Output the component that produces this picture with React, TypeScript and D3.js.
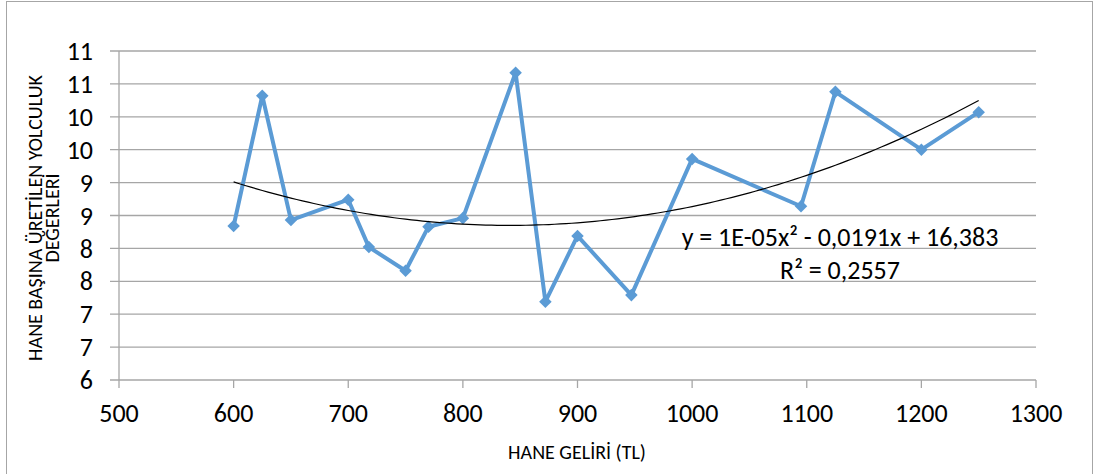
import React from "react";
import * as d3 from "d3";

const incomes = [600, 625, 650, 700, 718, 750, 770, 800, 846, 872, 900, 947, 1000, 1095, 1125, 1200, 1250];
const trips = [8.34, 10.32, 8.43, 8.74, 8.02, 7.66, 8.33, 8.46, 10.67, 7.19, 8.19, 7.29, 9.36, 8.64, 10.38, 9.5, 10.07];
const xTicks = [500, 600, 700, 800, 900, 1000, 1100, 1200, 1300];
const yTicks = [6, 6.5, 7, 7.5, 8, 8.5, 9, 9.5, 10, 10.5, 11];
const equationText = "y = 1E-05x² - 0,0191x + 16,383";
const r2Text = "R² = 0,2557";

function quadFit(xs: number[], ys: number[]) {
  const mx = d3.mean(xs)!;
  const u = xs.map((x) => x - mx);
  const n = xs.length;
  let s1 = 0, s2 = 0, s3 = 0, s4 = 0, t0 = 0, t1 = 0, t2 = 0;
  u.forEach((v, i) => {
    s1 += v; s2 += v * v; s3 += v ** 3; s4 += v ** 4;
    t0 += ys[i]; t1 += v * ys[i]; t2 += v * v * ys[i];
  });
  const M = [
    [s4, s3, s2, t2],
    [s3, s2, s1, t1],
    [s2, s1, n, t0],
  ];
  for (let i = 0; i < 3; i++) {
    for (let k = i + 1; k < 3; k++) {
      const f = M[k][i] / M[i][i];
      for (let j = i; j < 4; j++) M[k][j] -= f * M[i][j];
    }
  }
  const sol = [0, 0, 0];
  for (let i = 2; i >= 0; i--) {
    let s = M[i][3];
    for (let j = i + 1; j < 3; j++) s -= M[i][j] * sol[j];
    sol[i] = s / M[i][i];
  }
  const [a, b, c] = sol;
  return (x: number) => a * (x - mx) ** 2 + b * (x - mx) + c;
}

export default function App() {
  const W = 1095, H = 474;
  const x = d3.scaleLinear().domain([500, 1300]).range([119, 1036]);
  const y = d3.scaleLinear().domain([6, 11]).range([380, 51]);
  const data = incomes.map((v, i) => [v, trips[i]] as [number, number]);
  const line = d3.line<[number, number]>().x((d) => x(d[0])).y((d) => y(d[1]));
  const f = quadFit(incomes, trips);
  const tx = d3.range(600, 1250.1, 5).map((v) => [v, f(v)] as [number, number]);
  const font = "Carlito, Calibri, 'Open Sans', 'Noto Sans', sans-serif";
  const diamond = d3.symbol().type(d3.symbolDiamond2).size(100)()!;

  return (
    <svg width={W} height={H} style={{ position: "absolute", left: 0, top: 0 }} fontFamily={font}>
      <rect x={0} y={0} width={W} height={H} fill="#fff" />
      <rect x={6.5} y={1.5} width={1086} height={475} fill="#fff" stroke="#a6a6a6" strokeWidth={1} />
      {yTicks.map((t) => (
        <g key={t}>
          <line x1={110} x2={1036} y1={y(t)} y2={y(t)} stroke="#a6a6a6" strokeWidth={1.3} />
          <text x={93} y={y(t)} dy="0.35em" textAnchor="end" fontSize={26} fill="#000">
            {d3.format(".0f")(Math.round(t))}
          </text>
        </g>
      ))}
      <line x1={119} x2={119} y1={51} y2={380} stroke="#a6a6a6" strokeWidth={1.3} />
      {xTicks.map((t) => (
        <g key={t}>
          <line x1={x(t)} x2={x(t)} y1={380} y2={388} stroke="#a6a6a6" strokeWidth={1.3} />
          <text x={x(t)} y={413} dy="0.35em" textAnchor="middle" fontSize={26} fill="#000">
            {t}
          </text>
        </g>
      ))}
      <path d={line(data)!} fill="none" stroke="#5b9bd5" strokeWidth={4} strokeLinejoin="round" />
      {data.map((d, i) => (
        <path key={i} d={diamond} transform={`translate(${x(d[0])},${y(d[1])})`} fill="#5b9bd5" />
      ))}
      <path d={line(tx)!} fill="none" stroke="#000" strokeWidth={1.2} />
      <text x={840} y={237} dy="0.35em" textAnchor="middle" fontSize={26} fill="#000">{equationText}</text>
      <text x={840} y={270} dy="0.35em" textAnchor="middle" fontSize={26} fill="#000">{r2Text}</text>
      <text x={577} y={452} dy="0.35em" textAnchor="middle" fontSize={20} fill="#000">HANE GELİRİ (TL)</text>
      <g transform="translate(0,218) rotate(-90)">
        <text x={0} y={42} textAnchor="middle" fontSize={20} fill="#000">HANE BAŞINA ÜRETİLEN YOLCULUK</text>
        <text x={0} y={59} textAnchor="middle" fontSize={20} fill="#000">DEĞERLERİ</text>
      </g>
    </svg>
  );
}
